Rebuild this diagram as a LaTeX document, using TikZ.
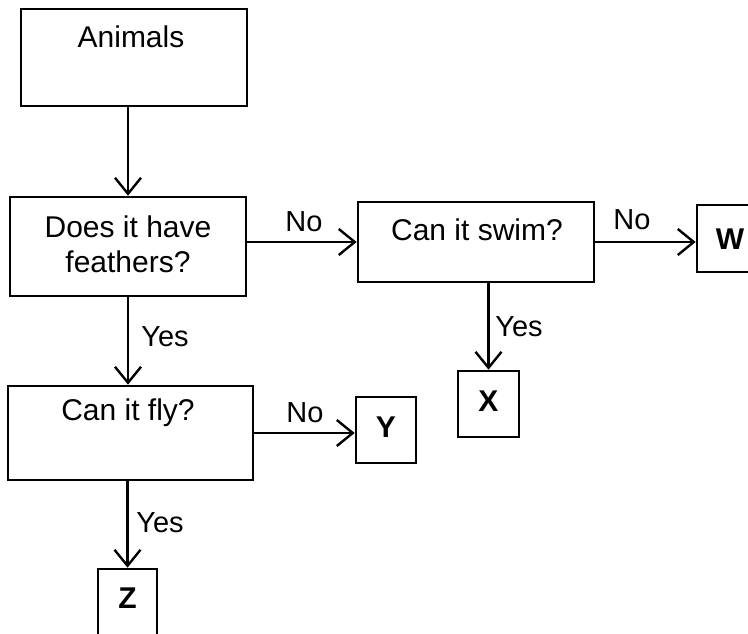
\documentclass[tikz,border=0pt]{standalone}
\usepackage{fontspec}
\setmainfont{Liberation Sans}
\usetikzlibrary{arrows.meta}
\tikzset{
  boxnode/.style={draw, line width=2.6pt, inner sep=0pt},
  txt/.style={inner sep=0pt, font=\fontsize{30}{35}\selectfont, align=center},
  letter/.style={inner sep=0pt, font=\fontsize{30}{35}\selectfont\bfseries},
  lbl/.style={inner sep=0pt, font=\fontsize{29}{34}\selectfont},
  conn/.style={line width=2.6pt, -{Straight Barb[length=16pt,width=26pt,line width=2.4pt]}}
}
\begin{document}
\begin{tikzpicture}[x=1pt,y=-1pt]
\useasboundingbox (0,0) rectangle (748,633);
% boxes
\node[boxnode, minimum width=226pt, minimum height=97pt] (animals) at (134,57.5) {};
\node[txt] (animalsT) at (131,37) {Animals};
\node[boxnode, minimum width=236pt, minimum height=99pt] (feathers) at (128,246.5) {};
\node[txt] (feathersT) at (128,244.5) {Does it have\\feathers?};
\node[boxnode, minimum width=236pt, minimum height=80pt] (swim) at (476,242) {};
\node[txt] (swimT) at (477,230) {Can it swim?};
\node[boxnode, minimum width=62pt, minimum height=67pt] (W) at (728,238.5) {};
\node[letter] (WT) at (730,239) {W};
\node[boxnode, minimum width=61pt, minimum height=66pt] (X) at (488.5,404) {};
\node[letter] (XT) at (488.5,401) {X};
\node[boxnode, minimum width=245pt, minimum height=94pt] (fly) at (130.5,433) {};
\node[txt] (flyT) at (128,413) {Can it fly?};
\node[boxnode, minimum width=60pt, minimum height=66pt] (Y) at (386,430) {};
\node[letter] (YT) at (386,427) {Y};
\node[boxnode, minimum width=59pt, minimum height=72pt] (Z) at (127.5,605) {};
\node[letter] (ZT) at (127.5,598) {Z};
% labels
\node[lbl] (no1) at (304,222) {No};
\node[lbl] (no2) at (632,220) {No};
\node[lbl] (no3) at (305,413) {No};
\node[lbl] (yes1) at (165,337) {Yes};
\node[lbl] (yes2) at (519,327) {Yes};
\node[lbl] (yes3) at (160,523) {Yes};
% connectors
\draw[conn] (animals.south -| feathers.north) -- (feathers.north);
\draw[conn] (feathers.east |- swim.west) -- (swim.west);
\draw[conn] (swim.east) -- (W.west |- swim.east);
\draw[conn] (X.north |- swim.south) -- (X.north);
\draw[conn] (feathers.south) -- (feathers.south |- fly.north);
\draw[conn] (fly.east) -- (Y.west |- fly.east);
\draw[conn] (Z.north |- fly.south) -- (Z.north);
\end{tikzpicture}
\end{document}
